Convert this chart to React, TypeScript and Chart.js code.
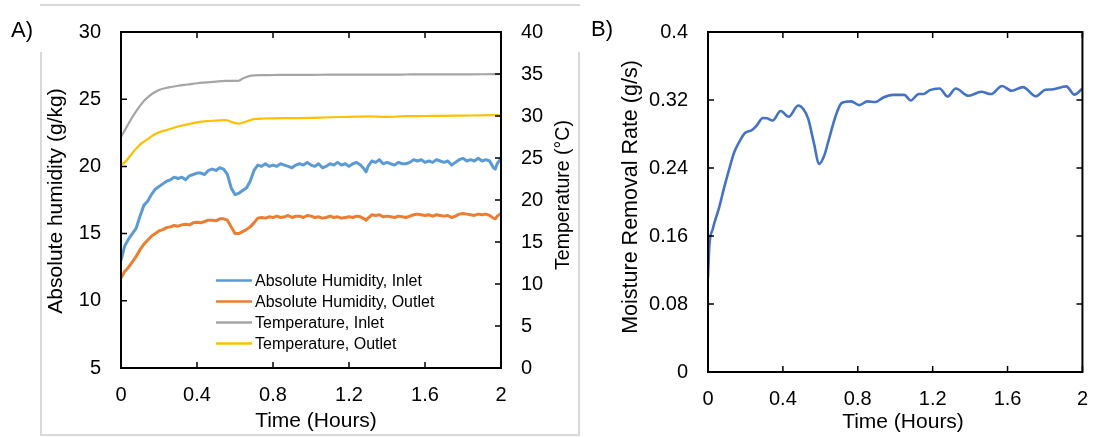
import React, { useEffect, useRef } from 'react';
import { Chart, registerables } from 'chart.js';

Chart.register(...registerables);

const FONT = "'Liberation Sans', Arial, Helvetica, sans-serif";
const INK = '#000000';

// ---------- Panel A: absolute humidity (left axis) ----------
const tHum = [
  0, 0.02, 0.04, 0.06, 0.08, 0.1, 0.12, 0.14, 0.16, 0.18,
  0.2, 0.22, 0.24, 0.26, 0.28, 0.3, 0.32, 0.34, 0.36, 0.38,
  0.4, 0.42, 0.44, 0.46, 0.48, 0.5, 0.52, 0.54, 0.56, 0.58,
  0.6, 0.62, 0.64, 0.66, 0.68, 0.7, 0.72, 0.74, 0.76, 0.78,
  0.8, 0.82, 0.84, 0.86, 0.88, 0.9, 0.92, 0.94, 0.96, 0.98,
  1.0, 1.02, 1.04, 1.06, 1.08, 1.1, 1.12, 1.14, 1.16, 1.18,
  1.2, 1.22, 1.24, 1.26, 1.28, 1.29, 1.3, 1.32, 1.34, 1.36,
  1.38, 1.4, 1.42, 1.44, 1.46, 1.48, 1.5, 1.52, 1.54, 1.56,
  1.58, 1.6, 1.62, 1.64, 1.66, 1.68, 1.7, 1.72, 1.74, 1.76,
  1.78, 1.8, 1.82, 1.84, 1.86, 1.88, 1.9, 1.92, 1.94, 1.96,
  1.97, 1.98, 2.0,
];
const humInlet = [
  13.0, 14.1, 14.6, 15.0, 15.4, 16.3, 17.1, 17.4, 17.9, 18.3,
  18.5, 18.7, 18.9, 19.0, 19.2, 19.1, 19.2, 19.0, 19.3, 19.4,
  19.5, 19.5, 19.4, 19.7, 19.8, 19.7, 19.9, 19.8, 19.4, 18.4,
  17.9, 18.0, 18.2, 18.4, 18.9, 19.7, 20.1, 20.0, 20.2, 20.0,
  20.1, 20.0, 20.2, 20.1, 20.0, 19.9, 20.1, 20.2, 20.1, 20.3,
  20.1, 20.0, 20.2, 19.9, 20.0, 20.2, 20.1, 20.3, 20.1, 20.2,
  20.0, 20.2, 20.3, 20.1, 19.8, 19.6, 20.0, 20.4, 20.3, 20.5,
  20.2, 20.3, 20.2, 20.1, 20.3, 20.2, 20.2, 20.3, 20.5, 20.4,
  20.5, 20.3, 20.4, 20.3, 20.5, 20.4, 20.3, 20.4, 20.1, 20.3,
  20.5, 20.6, 20.4, 20.5, 20.4, 20.6, 20.4, 20.5, 20.4, 19.9,
  19.8, 20.2, 20.6,
];
const humOutlet = [
  11.7, 12.2, 12.5, 12.9, 13.3, 13.8, 14.2, 14.5, 14.8, 15.0,
  15.2, 15.3, 15.45, 15.5, 15.6, 15.55, 15.65, 15.7, 15.65, 15.8,
  15.85, 15.8, 15.9, 16.0, 16.0, 15.95, 16.1, 16.1, 16.0, 15.5,
  15.0, 15.0, 15.15, 15.3, 15.5, 15.8, 16.15, 16.2, 16.15, 16.25,
  16.2, 16.3, 16.2, 16.25, 16.35, 16.2, 16.3, 16.3, 16.2, 16.35,
  16.3, 16.2, 16.25, 16.15, 16.2, 16.3, 16.2, 16.25, 16.15, 16.2,
  16.25, 16.2, 16.3, 16.25, 16.1, 16.0, 16.15, 16.4, 16.35, 16.4,
  16.25, 16.3, 16.25, 16.2, 16.3, 16.25, 16.2, 16.3, 16.4, 16.45,
  16.4, 16.35, 16.4, 16.3, 16.4, 16.35, 16.3, 16.35, 16.2, 16.3,
  16.45, 16.5, 16.45, 16.4, 16.35, 16.45, 16.4, 16.45, 16.35, 16.15,
  16.1, 16.3, 16.5,
];

// ---------- Panel A: temperature (right axis) ----------
const tTemp = [
  0, 0.025, 0.05, 0.075, 0.1, 0.125, 0.15, 0.175, 0.2, 0.25,
  0.3, 0.35, 0.4, 0.45, 0.5, 0.55, 0.6, 0.62, 0.64, 0.66,
  0.68, 0.7, 0.75, 0.8, 0.9, 1.0, 1.1, 1.2, 1.3, 1.4,
  1.5, 1.6, 1.7, 1.8, 1.9, 2.0,
];
const tempInlet = [
  27.5, 28.5, 29.5, 30.4, 31.2, 31.9, 32.4, 32.8, 33.1, 33.4,
  33.6, 33.75, 33.9, 34.0, 34.1, 34.17, 34.17, 34.2, 34.45, 34.65,
  34.78, 34.84, 34.87, 34.88, 34.9, 34.9, 34.92, 34.92, 34.93, 34.93,
  34.94, 34.95, 34.95, 34.96, 34.97, 35.0,
];
const tempOutlet = [
  24.15, 24.6, 25.3, 26.0, 26.6, 27.0, 27.4, 27.8, 28.05, 28.4,
  28.75, 29.0, 29.25, 29.4, 29.45, 29.5, 29.15, 29.1, 29.2, 29.35,
  29.5, 29.62, 29.7, 29.72, 29.75, 29.78, 29.85, 29.9, 29.95, 29.9,
  29.98, 30.0, 30.02, 30.05, 30.08, 30.1,
];

// ---------- Panel B: moisture removal rate ----------
const tRate = [
  0, 0.007, 0.025, 0.06, 0.0875, 0.11, 0.139, 0.17, 0.199, 0.233,
  0.26, 0.293, 0.315, 0.345, 0.388, 0.431, 0.482, 0.51, 0.535, 0.565,
  0.594, 0.62, 0.645, 0.68, 0.714, 0.765, 0.808, 0.851, 0.894, 0.937,
  0.988, 1.048, 1.083, 1.126, 1.151, 1.185, 1.237, 1.28, 1.323, 1.392,
  1.46, 1.511, 1.571, 1.622, 1.682, 1.751, 1.802, 1.836, 1.914, 1.957,
  2.0,
];
const moistureRate = [
  0.111, 0.148, 0.168, 0.194, 0.218, 0.236, 0.258, 0.272, 0.2814, 0.2844,
  0.29, 0.2988, 0.2985, 0.2958, 0.307, 0.3003, 0.3135, 0.309, 0.298, 0.27,
  0.2448, 0.254, 0.273, 0.3, 0.3165, 0.3184, 0.314, 0.3184, 0.3176, 0.323,
  0.326, 0.326, 0.3195, 0.327, 0.327, 0.3316, 0.3335, 0.324, 0.3335, 0.325,
  0.3297, 0.327, 0.3365, 0.3308, 0.3352, 0.3244, 0.332, 0.3324, 0.336, 0.3263,
  0.3335,
];

// ---------- ticks, names, colours ----------
const timeTicks = [0, 0.4, 0.8, 1.2, 1.6, 2];
const timeTickLabels = ['0', '0.4', '0.8', '1.2', '1.6', '2'];
const humTicks = [5, 10, 15, 20, 25, 30];
const tempTicks = [0, 5, 10, 15, 20, 25, 30, 35, 40];
const rateTicks = [0, 0.08, 0.16, 0.24, 0.32, 0.4];
const rateTickLabels = ['0', '0.08', '0.16', '0.24', '0.32', '0.4'];
const seriesNames = [
  'Absolute Humidity, Inlet',
  'Absolute Humidity, Outlet',
  'Temperature, Inlet',
  'Temperature, Outlet',
];
const seriesColors = ['#5B9BD5', '#ED7D31', '#A5A5A5', '#FFC000'];
const rateColor = '#4472C4';

const pts = (xs: number[], ys: number[]) => xs.map((x, i) => ({ x, y: ys[i] }));

type TextItem = {
  text: string;
  x: number;
  y: number;
  size: number;
  rotate?: boolean;
  align?: CanvasTextAlign;
  baseline?: CanvasTextBaseline;
};

function drawTexts(ctx: CanvasRenderingContext2D, items: TextItem[]) {
  items.forEach((it) => {
    ctx.save();
    ctx.fillStyle = INK;
    ctx.font = `${it.size}px ${FONT}`;
    ctx.textAlign = it.align || 'center';
    ctx.textBaseline = it.baseline || 'alphabetic';
    ctx.translate(it.x, it.y);
    if (it.rotate) ctx.rotate(-Math.PI / 2);
    ctx.fillText(it.text, 0, 0);
    ctx.restore();
  });
}

function framePlugin(xId: string, leftId: string, rightId: string) {
  return {
    id: 'frameTicks',
    afterDatasetsDraw(chart: any) {
      const { ctx, chartArea: a } = chart;
      const len = 6;
      ctx.save();
      ctx.strokeStyle = INK;
      ctx.lineWidth = 1.5;
      ctx.beginPath();
      const xs = chart.scales[xId];
      xs.ticks.forEach((t: any) => {
        const p = xs.getPixelForValue(t.value);
        ctx.moveTo(p, a.top);
        ctx.lineTo(p, a.top + len);
        ctx.moveTo(p, a.bottom);
        ctx.lineTo(p, a.bottom - len);
      });
      const ls = chart.scales[leftId];
      ls.ticks.forEach((t: any) => {
        const p = ls.getPixelForValue(t.value);
        ctx.moveTo(a.left, p);
        ctx.lineTo(a.left + len, p);
      });
      const rs = chart.scales[rightId];
      rs.ticks.forEach((t: any) => {
        const p = rs.getPixelForValue(t.value);
        ctx.moveTo(a.right, p);
        ctx.lineTo(a.right - len, p);
      });
      ctx.stroke();
      ctx.lineWidth = 2;
      ctx.strokeRect(a.left, a.top, a.right - a.left, a.bottom - a.top);
      ctx.restore();
    },
  };
}

const tickFont = { family: FONT, size: 20 };

function axis(extra: any) {
  return {
    type: 'linear',
    grid: { display: false, drawTicks: false },
    border: { display: false },
    ...extra,
    ticks: { color: INK, font: tickFont, autoSkip: false, maxRotation: 0, ...(extra.ticks || {}) },
  };
}

export default function App() {
  const refA = useRef<HTMLCanvasElement>(null);
  const refB = useRef<HTMLCanvasElement>(null);

  useEffect(() => {
    if (!refA.current || !refB.current) return;

    const textsA = {
      id: 'textsA',
      afterDraw(chart: any) {
        const ctx = chart.ctx as CanvasRenderingContext2D;
        drawTexts(ctx, [
          { text: 'A)', x: 11, y: 37, size: 22, align: 'left' },
          { text: 'Absolute humidity (g/kg)', x: 62, y: 201, size: 21, rotate: true },
          { text: 'Temperature (°C)', x: 569, y: 195, size: 19.5, rotate: true },
          { text: 'Time (Hours)', x: 316, y: 427, size: 21 },
        ]);
        // legend
        ctx.save();
        chart.data.datasets.forEach((ds: any, i: number) => {
          const y = 280.5 + i * 21;
          ctx.strokeStyle = ds.borderColor;
          ctx.lineWidth = 2.5;
          ctx.beginPath();
          ctx.moveTo(216, y);
          ctx.lineTo(252, y);
          ctx.stroke();
          ctx.fillStyle = INK;
          ctx.font = `16px ${FONT}`;
          ctx.textAlign = 'left';
          ctx.textBaseline = 'middle';
          ctx.fillText(ds.label, 255, y + 1);
        });
        ctx.restore();
      },
    };

    const chartA = new Chart(refA.current, {
      type: 'line',
      data: {
        datasets: [
          { label: seriesNames[0], data: pts(tHum, humInlet), yAxisID: 'y', borderColor: seriesColors[0], borderWidth: 3 },
          { label: seriesNames[1], data: pts(tHum, humOutlet), yAxisID: 'y', borderColor: seriesColors[1], borderWidth: 3 },
          { label: seriesNames[2], data: pts(tTemp, tempInlet), yAxisID: 'y2', borderColor: seriesColors[2], borderWidth: 2.2, cubicInterpolationMode: 'monotone' },
          { label: seriesNames[3], data: pts(tTemp, tempOutlet), yAxisID: 'y2', borderColor: seriesColors[3], borderWidth: 2.2, cubicInterpolationMode: 'monotone' },
        ] as any,
      },
      options: {
        responsive: false,
        animation: false,
        events: [],
        layout: { padding: { top: 18, left: 0, right: 0, bottom: 0 } },
        elements: { point: { radius: 0 }, line: { borderJoinStyle: 'round' } },
        plugins: { legend: { display: false }, tooltip: { enabled: false } },
        scales: {
          x: axis({
            position: 'bottom', min: 0, max: 2,
            afterBuildTicks: (s: any) => { s.ticks = timeTicks.map((v) => ({ value: v })); },
            afterFit: (s: any) => { s.height = 69; },
            ticks: { padding: 15, callback: (_v: any, i: number) => timeTickLabels[i] },
          }),
          y: axis({
            position: 'left', min: 5, max: 30,
            afterBuildTicks: (s: any) => { s.ticks = humTicks.map((v) => ({ value: v })); },
            afterFit: (s: any) => { s.width = 121; },
            ticks: { padding: 20, callback: (v: any) => String(v) },
          }),
          y2: axis({
            position: 'right', min: 0, max: 40,
            afterBuildTicks: (s: any) => { s.ticks = tempTicks.map((v) => ({ value: v })); },
            afterFit: (s: any) => { s.width = 77; },
            ticks: { padding: 20, callback: (v: any) => String(v) },
          }),
        } as any,
      },
      plugins: [framePlugin('x', 'y', 'y2'), textsA],
    });

    const textsB = {
      id: 'textsB',
      afterDraw(chart: any) {
        drawTexts(chart.ctx, [
          { text: 'B)', x: 11, y: 36, size: 22, align: 'left' },
          { text: 'Moisture Removal Rate (g/s)', x: 57, y: 197, size: 21.5, rotate: true },
          { text: 'Time (Hours)', x: 323, y: 427.5, size: 21 },
        ]);
      },
    };

    const chartB = new Chart(refB.current, {
      type: 'line',
      data: {
        datasets: [
          { label: 'Moisture Removal Rate', data: pts(tRate, moistureRate), borderColor: rateColor, borderWidth: 2.6, cubicInterpolationMode: 'monotone' },
        ] as any,
      },
      options: {
        responsive: false,
        animation: false,
        events: [],
        layout: { padding: { top: 18, left: 0, right: 6, bottom: 0 } },
        elements: { point: { radius: 0 }, line: { borderJoinStyle: 'round' } },
        plugins: { legend: { display: false }, tooltip: { enabled: false } },
        scales: {
          x: axis({
            position: 'bottom', min: 0, max: 2,
            afterBuildTicks: (s: any) => { s.ticks = timeTicks.map((v) => ({ value: v })); },
            afterFit: (s: any) => { s.height = 65; },
            ticks: { padding: 15, callback: (_v: any, i: number) => timeTickLabels[i] },
          }),
          y: axis({
            position: 'left', min: 0, max: 0.4,
            afterBuildTicks: (s: any) => { s.ticks = rateTicks.map((v) => ({ value: v })); },
            afterFit: (s: any) => { s.width = 128; },
            ticks: { padding: 20, callback: (_v: any, i: number) => rateTickLabels[i] },
          }),
        } as any,
      },
      plugins: [framePlugin('x', 'y', 'y'), textsB],
    });

    return () => {
      chartA.destroy();
      chartB.destroy();
    };
  }, []);

  const frame = '#d9d9d9';
  return (
    <div style={{ position: 'absolute', left: 0, top: 0, width: 1103, height: 437, background: '#fff', overflow: 'hidden' }}>
      <canvas ref={refA} width={578} height={437} style={{ position: 'absolute', left: 0, top: 0 }} />
      <canvas ref={refB} width={523} height={437} style={{ position: 'absolute', left: 580, top: 0 }} />
      <div style={{ position: 'absolute', left: 40, top: 4, width: 540, height: 2, background: frame }} />
      <div style={{ position: 'absolute', left: 40, top: 434, width: 540, height: 2, background: frame }} />
      <div style={{ position: 'absolute', left: 40, top: 52, width: 2, height: 384, background: frame }} />
      <div style={{ position: 'absolute', left: 578, top: 52, width: 2, height: 384, background: frame }} />
    </div>
  );
}
